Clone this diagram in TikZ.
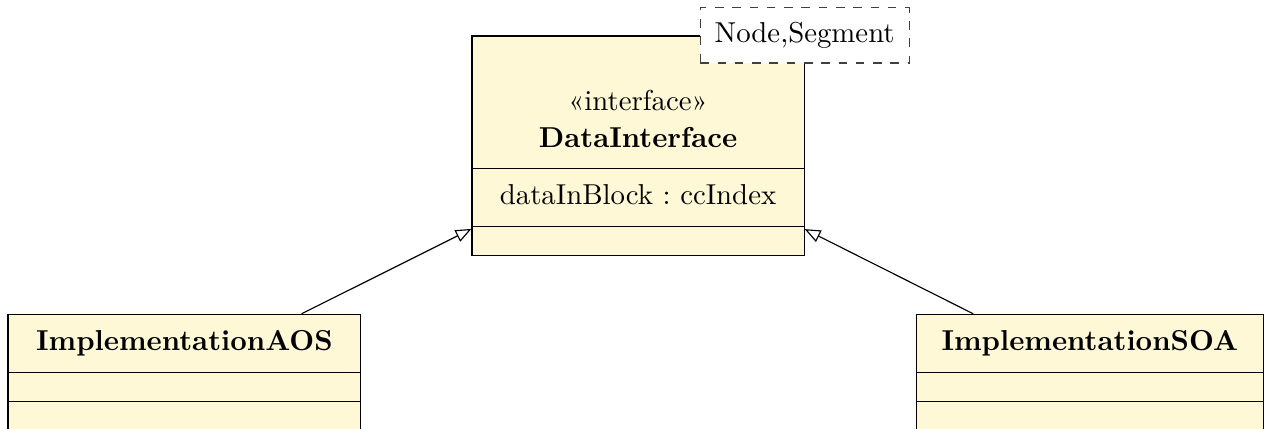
\documentclass[tikz,border=0pt]{standalone}
\usepackage{xcolor}
\definecolor{uml-fill}{HTML}{FFF8D6}
\usepackage{tikz}
\usetikzlibrary{shapes.multipart,arrows.meta,positioning}

\newcommand{\partstrut}{\rule[-7.2pt]{0pt}{19.7pt}}
\newcommand{\emptypart}{\rule{0pt}{9.7pt}}

\begin{document}
\begin{tikzpicture}[
  cls/.style={rectangle split, rectangle split parts=3, draw, fill=uml-fill,
              inner xsep=0pt, inner ysep=0pt, align=center},
  tpl/.style={rectangle, draw=black!75, dashed, fill=white, inner sep=5pt},
  inh/.style={-{Triangle[open, length=5.5pt, width=4.4pt]}, black}]

  \useasboundingbox (0,0) rectangle (441.67pt,-148.96pt);

  \node[cls, text width=115.3pt, anchor=north west] (iface) at (163.7pt,-12.3pt)
    {\rule{0pt}{25.5pt}«interface»\\[0.85pt]\textbf{DataInterface}\rule[-7.2pt]{0pt}{7.2pt}
     \nodepart{two}\partstrut dataInBlock :\ ccIndex
     \nodepart{three}\emptypart};
  \node[tpl] (tmpl) at (iface.north east) {Node,Segment};

  \node[cls, text width=122.5pt, below left=20.1pt and 38.2pt of iface] (aos)
    {\partstrut\textbf{ImplementationAOS}
     \nodepart{two}\emptypart
     \nodepart{three}\emptypart};
  \node[cls, text width=120.6pt, below right=20.1pt and 38.5pt of iface] (soa)
    {\partstrut\textbf{ImplementationSOA}
     \nodepart{two}\emptypart
     \nodepart{three}\emptypart};

  \draw[inh] (aos) -- (iface);
  \draw[inh] (soa) -- (iface);

\end{tikzpicture}
\end{document}
